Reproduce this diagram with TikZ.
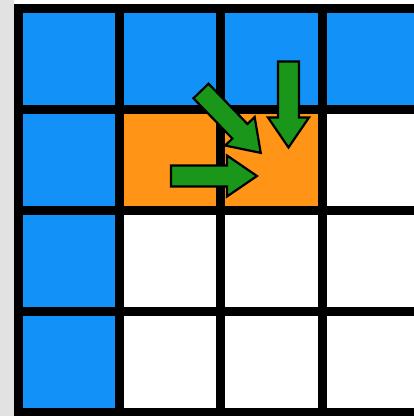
\documentclass[tikz,border=0pt]{standalone}
\definecolor{cellblue}{RGB}{18,145,248}
\definecolor{cellorange}{RGB}{255,148,22}
\definecolor{arrowgreen}{RGB}{26,150,26}
\definecolor{bggray}{RGB}{226,226,226}
\tikzset{
  cell/.style={draw=black, line width=9pt, minimum width=101.4pt, minimum height=101pt, inner sep=0pt, outer sep=0pt},
  bluecell/.style={cell, fill=cellblue},
  orangecell/.style={cell, fill=cellorange},
  whitecell/.style={cell, fill=white},
  greenarrow/.style={fill=arrowgreen, draw=black, line width=2.2pt, line join=miter},
  pics/bigarrow/.style={code={
    \path[greenarrow] (0,-10.5) -- (56,-10.5) -- (56,-20.5) -- (86,0) -- (56,20.5) -- (56,10.5) -- (0,10.5) -- cycle;
  }}
}
\begin{document}
\begin{tikzpicture}[x=1pt,y=-1pt]
\useasboundingbox (0,0) rectangle (414,416);
\clip (0,0) rectangle (414,416);
\fill[white] (0,0) rectangle (414,416);
\fill[bggray] (0,0) rectangle (14,416);
% row 0
\node[bluecell] (c00) at (68.7,58.5) {};
\node[bluecell] (c01) at (170.1,58.5) {};
\node[bluecell] (c02) at (271.5,58.5) {};
\node[bluecell] (c03) at (372.9,58.5) {};
% row 1
\node[bluecell] (c10) at (68.7,159.5) {};
\node[orangecell] (c11) at (170.1,159.5) {};
\node[orangecell] (c12) at (271.5,159.5) {};
\node[whitecell] (c13) at (372.9,159.5) {};
% row 2
\node[bluecell] (c20) at (68.7,260.5) {};
\node[whitecell] (c21) at (170.1,260.5) {};
\node[whitecell] (c22) at (271.5,260.5) {};
\node[whitecell] (c23) at (372.9,260.5) {};
% row 3
\node[bluecell] (c30) at (68.7,361.5) {};
\node[whitecell] (c31) at (170.1,361.5) {};
\node[whitecell] (c32) at (271.5,361.5) {};
\node[whitecell] (c33) at (372.9,361.5) {};
% arrows
\pic[shift={(171,176)}] {bigarrow};
\pic[shift={(288.5,61.5)}, rotate=-90] {bigarrow};
\pic[shift={(201,91)}, rotate=-46] {bigarrow};
\end{tikzpicture}
\end{document}
